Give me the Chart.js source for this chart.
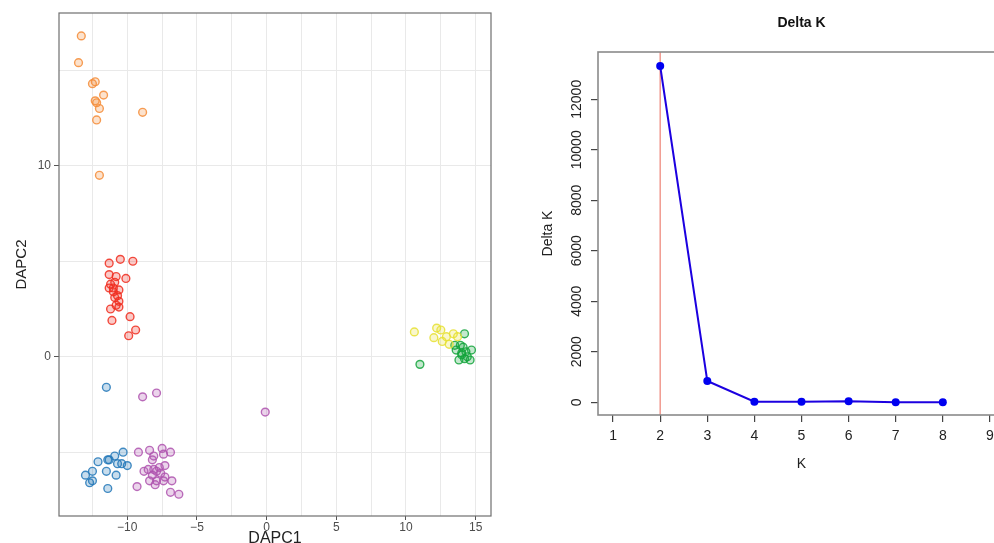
<!DOCTYPE html>
<html>
<head>
<meta charset="utf-8">
<script src="https://cdn.jsdelivr.net/npm/chart.js@4/dist/chart.umd.min.js"></script>
<style>
    html, body { margin: 0; padding: 0; background: #fff; width: 994px; height: 543px; overflow: hidden; }
    #dapcBox { position: absolute; left: 0; top: 0; width: 500px; height: 543px; }
    #deltaBox { position: absolute; left: 520px; top: 0; width: 510px; height: 543px; }
</style>
</head>
<body>
<div id="dapcBox"><canvas id="dapcChart"></canvas></div>
<div id="deltaBox"><canvas id="deltaChart"></canvas></div>
<script>
// ---- DAPC scatter data (DAPC1, DAPC2 per cluster) ----
var orangeX = [-13.3, -13.5, -12.5, -12.3, -11.7, -12.3, -12.2, -12.0, -12.2, -8.9, -12.0];
var orangeY = [16.8, 15.4, 14.3, 14.4, 13.7, 13.4, 13.3, 13.0, 12.4, 12.8, 9.5];

var redX = [-11.3, -10.5, -9.6, -11.3, -10.8, -10.1, -11.2, -11.3, -11.0, -10.6, -10.7, -10.9, -10.6, -10.8, -10.6, -11.2, -11.1, -9.8, -9.9, -9.4, -10.9, -11.0];
var redY = [4.9, 5.1, 5.0, 4.3, 4.2, 4.1, 3.8, 3.6, 3.6, 3.5, 3.2, 3.1, 2.9, 2.7, 2.6, 2.5, 1.9, 2.1, 1.1, 1.4, 3.9, 3.4];

var blueX = [-11.5, -10.3, -10.9, -11.4, -12.1, -10.7, -10.0, -10.4, -11.5, -12.5, -13.0, -10.8, -12.5, -12.7, -11.4, -11.3];
var blueY = [-1.6, -5.0, -5.2, -5.4, -5.5, -5.6, -5.7, -5.6, -6.0, -6.0, -6.2, -6.2, -6.5, -6.6, -6.9, -5.4];

var purpleX = [-8.9, -7.9, -0.1, -9.2, -8.4, -7.5, -6.9, -8.1, -7.4, -8.2, -7.3, -8.8, -8.5, -8.1, -7.9, -7.6, -8.2, -7.3, -8.4, -7.9, -7.4, -6.8, -9.3, -6.9, -6.3, -7.7, -8.0];
var purpleY = [-2.1, -1.9, -2.9, -5.0, -4.9, -4.8, -5.0, -5.2, -5.1, -5.4, -5.7, -6.0, -5.9, -5.9, -6.0, -6.1, -6.2, -6.3, -6.5, -6.5, -6.5, -6.5, -6.8, -7.1, -7.2, -5.8, -6.7];

var yellowX = [10.6, 12.2, 12.5, 13.4, 13.7, 12.9, 12.6, 13.1, 12.0];
var yellowY = [1.3, 1.5, 1.4, 1.2, 1.05, 1.05, 0.8, 0.65, 1.0];

var greenX = [14.2, 13.6, 14.0, 14.3, 14.7, 13.8, 14.6, 11.0, 14.1, 13.9, 14.4, 13.5, 14.2, 14.0];
var greenY = [1.2, 0.35, 0.2, 0.26, 0.35, -0.17, -0.17, -0.4, 0.5, 0.6, 0.0, 0.6, -0.1, 0.1];

var dapcXTicks = [-12.5, -10, -7.5, -5, -2.5, 0, 2.5, 5, 7.5, 10, 12.5, 15];
var dapcYTicks = [-5, 0, 5, 10, 15];

// ---- Delta K data ----
var kValues = [2, 3, 4, 5, 6, 7, 8];
var deltaK = [13319, 843, 24, 20, 40, 2, 1];
var kTicks = [1, 2, 3, 4, 5, 6, 7, 8, 9];
var deltaTicks = [0, 2000, 4000, 6000, 8000, 10000, 12000];
var bestK = 2;

var FONT = "'Liberation Sans', Arial, sans-serif";

/**
 * Zips two arrays into {x, y} points
 */
function toPoints(xs, ys) {
    return xs.map(function (x, i) { return {x: x, y: ys[i]}; });
}

function fmtMinus(v) {
    return v < 0 ? '\u2212' + Math.abs(v) : String(v);
}

function fixTicks(values) {
    return function (axis) {
        axis.ticks = values.map(function (v) { return {value: v}; });
    };
}

function cluster(xs, ys, rgb) {
    return {
        data: toPoints(xs, ys),
        pointRadius: 3.9,
        pointBorderWidth: 1.4,
        borderColor: 'rgba(' + rgb + ',0.85)',
        backgroundColor: 'rgba(' + rgb + ',0.25)'
    };
}

// box around the plotting region
var panelBorder = {
    id: 'panelBorder',
    afterDatasetsDraw: function (chart, args, opts) {
        var a = chart.chartArea, ctx = chart.ctx;
        ctx.save();
        ctx.strokeStyle = opts.color;
        ctx.lineWidth = opts.width;
        ctx.strokeRect(a.left, a.top, a.right - a.left, a.bottom - a.top);
        ctx.restore();
    }
};

// vertical marker at the best K
var kMarker = {
    id: 'kMarker',
    beforeDatasetsDraw: function (chart) {
        var a = chart.chartArea, ctx = chart.ctx;
        var px = chart.scales.x.getPixelForValue(bestK);
        ctx.save();
        ctx.strokeStyle = '#EE8A7E';
        ctx.lineWidth = 1.3;
        ctx.beginPath();
        ctx.moveTo(px, a.top);
        ctx.lineTo(px, a.bottom);
        ctx.stroke();
        ctx.restore();
    }
};

new Chart(document.getElementById('dapcChart'), {
    type: 'scatter',
    data: {
        datasets: [
            cluster(orangeX, orangeY, '245,140,55'),
            cluster(redX, redY, '240,45,30'),
            cluster(blueX, blueY, '35,120,185'),
            cluster(purpleX, purpleY, '175,85,175'),
            cluster(yellowX, yellowY, '230,225,50'),
            cluster(greenX, greenY, '20,165,60')
        ]
    },
    options: {
        responsive: true,
        maintainAspectRatio: false,
        animation: false,
        layout: {padding: {left: 0, right: 9, top: 13, bottom: 0}},
        plugins: {
            legend: {display: false},
            tooltip: {enabled: false},
            panelBorder: {color: '#6f6f6f', width: 1.2}
        },
        scales: {
            x: {
                type: 'linear',
                min: -14.9,
                max: 16.1,
                afterBuildTicks: fixTicks(dapcXTicks),
                afterFit: function (s) { s.height = 27; },
                border: {display: false},
                grid: {
                    color: '#E9E9E9',
                    lineWidth: 1,
                    tickLength: 4,
                    tickColor: function (c) { return c.tick && c.tick.value % 5 === 0 ? '#555' : 'rgba(0,0,0,0)'; }
                },
                ticks: {
                    padding: 0,
                    maxRotation: 0,
                    color: '#4D4D4D',
                    font: {family: FONT, size: 12},
                    callback: function (v) { return v % 5 === 0 ? fmtMinus(v) : ''; }
                },
                title: {
                    display: true,
                    text: 'DAPC1',
                    color: '#222',
                    font: {family: FONT, size: 16, lineHeight: 1},
                    padding: {top: 0, bottom: -4}
                }
            },
            y: {
                type: 'linear',
                min: -8.34,
                max: 18,
                afterBuildTicks: fixTicks(dapcYTicks),
                afterFit: function (s) { s.width = 59; },
                border: {display: false},
                grid: {
                    color: '#E9E9E9',
                    lineWidth: 1,
                    tickLength: 5,
                    tickColor: function (c) { return c.tick && c.tick.value % 10 === 0 ? '#555' : 'rgba(0,0,0,0)'; }
                },
                ticks: {
                    padding: 3,
                    color: '#4D4D4D',
                    font: {family: FONT, size: 12},
                    callback: function (v) { return v % 10 === 0 ? fmtMinus(v) : ''; }
                },
                title: {
                    display: true,
                    text: 'DAPC2',
                    color: '#222',
                    font: {family: FONT, size: 15, lineHeight: 1},
                    padding: {top: 14, bottom: 0}
                }
            }
        }
    },
    plugins: [panelBorder]
});

new Chart(document.getElementById('deltaChart'), {
    type: 'line',
    data: {
        datasets: [{
            data: toPoints(kValues, deltaK),
            borderColor: '#1C00E0',
            borderWidth: 2,
            backgroundColor: '#0000F0',
            pointBackgroundColor: '#0000F0',
            pointBorderColor: '#0000F0',
            pointRadius: 4,
            pointBorderWidth: 0,
            tension: 0
        }]
    },
    options: {
        responsive: true,
        maintainAspectRatio: false,
        animation: false,
        layout: {padding: {left: 0, right: 25, top: 0, bottom: 68}},
        plugins: {
            legend: {display: false},
            tooltip: {enabled: false},
            panelBorder: {color: '#8a8a8a', width: 1.6},
            title: {
                display: true,
                text: 'Delta K',
                fullSize: false,
                color: '#111',
                font: {family: FONT, size: 14, weight: 'bold', lineHeight: 1.2},
                padding: {top: 14.6, bottom: 20.6}
            }
        },
        scales: {
            x: {
                type: 'linear',
                min: 0.68,
                max: 9.32,
                afterBuildTicks: fixTicks(kTicks),
                afterFit: function (s) { s.height = 60; },
                border: {display: false},
                grid: {drawOnChartArea: false, color: '#444', tickLength: 7, lineWidth: 1.2},
                ticks: {
                    padding: 6,
                    maxRotation: 0,
                    color: '#222',
                    font: {family: FONT, size: 14}
                },
                title: {
                    display: true,
                    text: 'K',
                    color: '#222',
                    font: {family: FONT, size: 14},
                    padding: {top: 0, bottom: 2}
                }
            },
            y: {
                type: 'linear',
                min: -503,
                max: 13873,
                afterBuildTicks: fixTicks(deltaTicks),
                afterFit: function (s) { s.width = 78; },
                border: {display: false},
                grid: {drawOnChartArea: false, color: '#444', tickLength: 7, lineWidth: 1.2},
                ticks: {
                    padding: -5.5,
                    minRotation: 90,
                    maxRotation: 90,
                    crossAlign: 'center',
                    color: '#222',
                    font: {family: FONT, size: 14},
                    callback: function (v) { return String(v); }
                },
                title: {
                    display: true,
                    text: 'Delta K',
                    color: '#222',
                    font: {family: FONT, size: 14},
                    padding: {top: 20, bottom: 0}
                }
            }
        }
    },
    plugins: [kMarker, panelBorder]
});
</script>
</body>
</html>
